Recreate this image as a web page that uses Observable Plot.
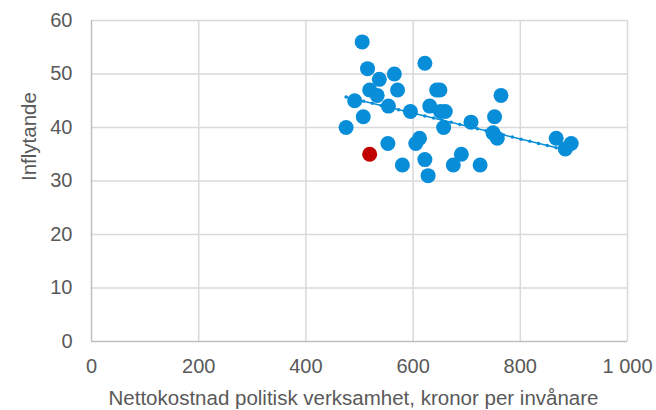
<!DOCTYPE html>
<html>
<head>
<meta charset="utf-8">
<script src="https://cdn.jsdelivr.net/npm/d3@7"></script>
<script src="https://cdn.jsdelivr.net/npm/@observablehq/plot@0.6"></script>
<style>
  html, body { margin: 0; padding: 0; background: #fff; }
</style>
</head>
<body>
<div id="chart"></div>
<script>
// Main series (blue)
const kostnad = [505, 515, 537, 565, 622, 519, 533, 571, 644, 650, 491, 554, 595, 631, 651, 660, 507, 475, 657, 708, 764, 752, 749, 757, 867, 884, 895, 553, 612, 605, 580, 622, 628, 690, 675, 725];
const inflytande = [56, 51, 49, 50, 52, 47, 46, 47, 47, 47, 45, 44, 43, 44, 43, 43, 42, 40, 40, 41, 46, 42, 39, 38, 38, 36, 37, 37, 38, 37, 33, 34, 31, 35, 33, 33];
// Highlighted municipality (red)
const markedKostnad = [519];
const markedInflytande = [35];

const xTicks = [0, 200, 400, 600, 800, 1000];
const yTicks = [0, 10, 20, 30, 40, 50, 60];
const xTitle = "Nettokostnad politisk verksamhet, kronor per invånare";
const yTitle = "Inflytande";

const blue = kostnad.map((x, i) => ({x, y: inflytande[i]}));
const red = markedKostnad.map((x, i) => ({x, y: markedInflytande[i]}));

const blueColor = "#088ed8";
const redColor = "#c00000";
const textColor = "#595959";
const fmt = d => d3.format(",")(d).replace(/,/g, " ");

const chart = Plot.plot({
  width: 656,
  height: 410,
  marginLeft: 91,
  marginRight: 29,
  marginTop: 20,
  marginBottom: 69,
  style: {fontFamily: "'Liberation Sans', Arial, sans-serif", fontSize: "20px", color: textColor, background: "#fff"},
  x: {domain: [0, 1000]},
  y: {domain: [0, 60]},
  marks: [
    Plot.gridX(xTicks.slice(1), {stroke: "#d9d9d9", strokeOpacity: 1, strokeWidth: 1.5}),
    Plot.gridY(yTicks.slice(1), {stroke: "#d9d9d9", strokeOpacity: 1, strokeWidth: 1.5}),
    Plot.ruleX([0], {stroke: "#bfbfbf", strokeWidth: 1.5}),
    Plot.ruleY([0], {stroke: "#bfbfbf", strokeWidth: 1.5}),
    Plot.axisX(xTicks, {tickSize: 0, tickPadding: 17, tickFormat: fmt, label: null, fill: textColor, fontSize: 20}),
    Plot.axisY(yTicks, {tickSize: 0, tickPadding: 19, label: null, fill: textColor, fontSize: 20}),
    Plot.text([xTitle], {frameAnchor: "bottom", dy: 57, dx: -6, lineAnchor: "middle", fill: textColor, fontSize: 20.5}),
    Plot.text([yTitle], {frameAnchor: "left", dx: -62, rotate: -90, lineAnchor: "middle", fill: textColor, fontSize: 20.5}),
    Plot.dot(blue, {x: "x", y: "y", r: 7.5, fill: blueColor, stroke: "none"}),
    Plot.dot(red, {x: "x", y: "y", r: 7.5, fill: redColor, stroke: "none"}),
    Plot.linearRegressionY(blue, {x: "x", y: "y", ci: 0, stroke: blueColor, strokeWidth: 1.5}),
    Plot.linearRegressionY(blue, {x: "x", y: "y", ci: 0, stroke: blueColor, strokeWidth: 3.5, strokeDasharray: "0,9", strokeLinecap: "round"})
  ]
});
document.getElementById("chart").append(chart);
</script>
</body>
</html>
